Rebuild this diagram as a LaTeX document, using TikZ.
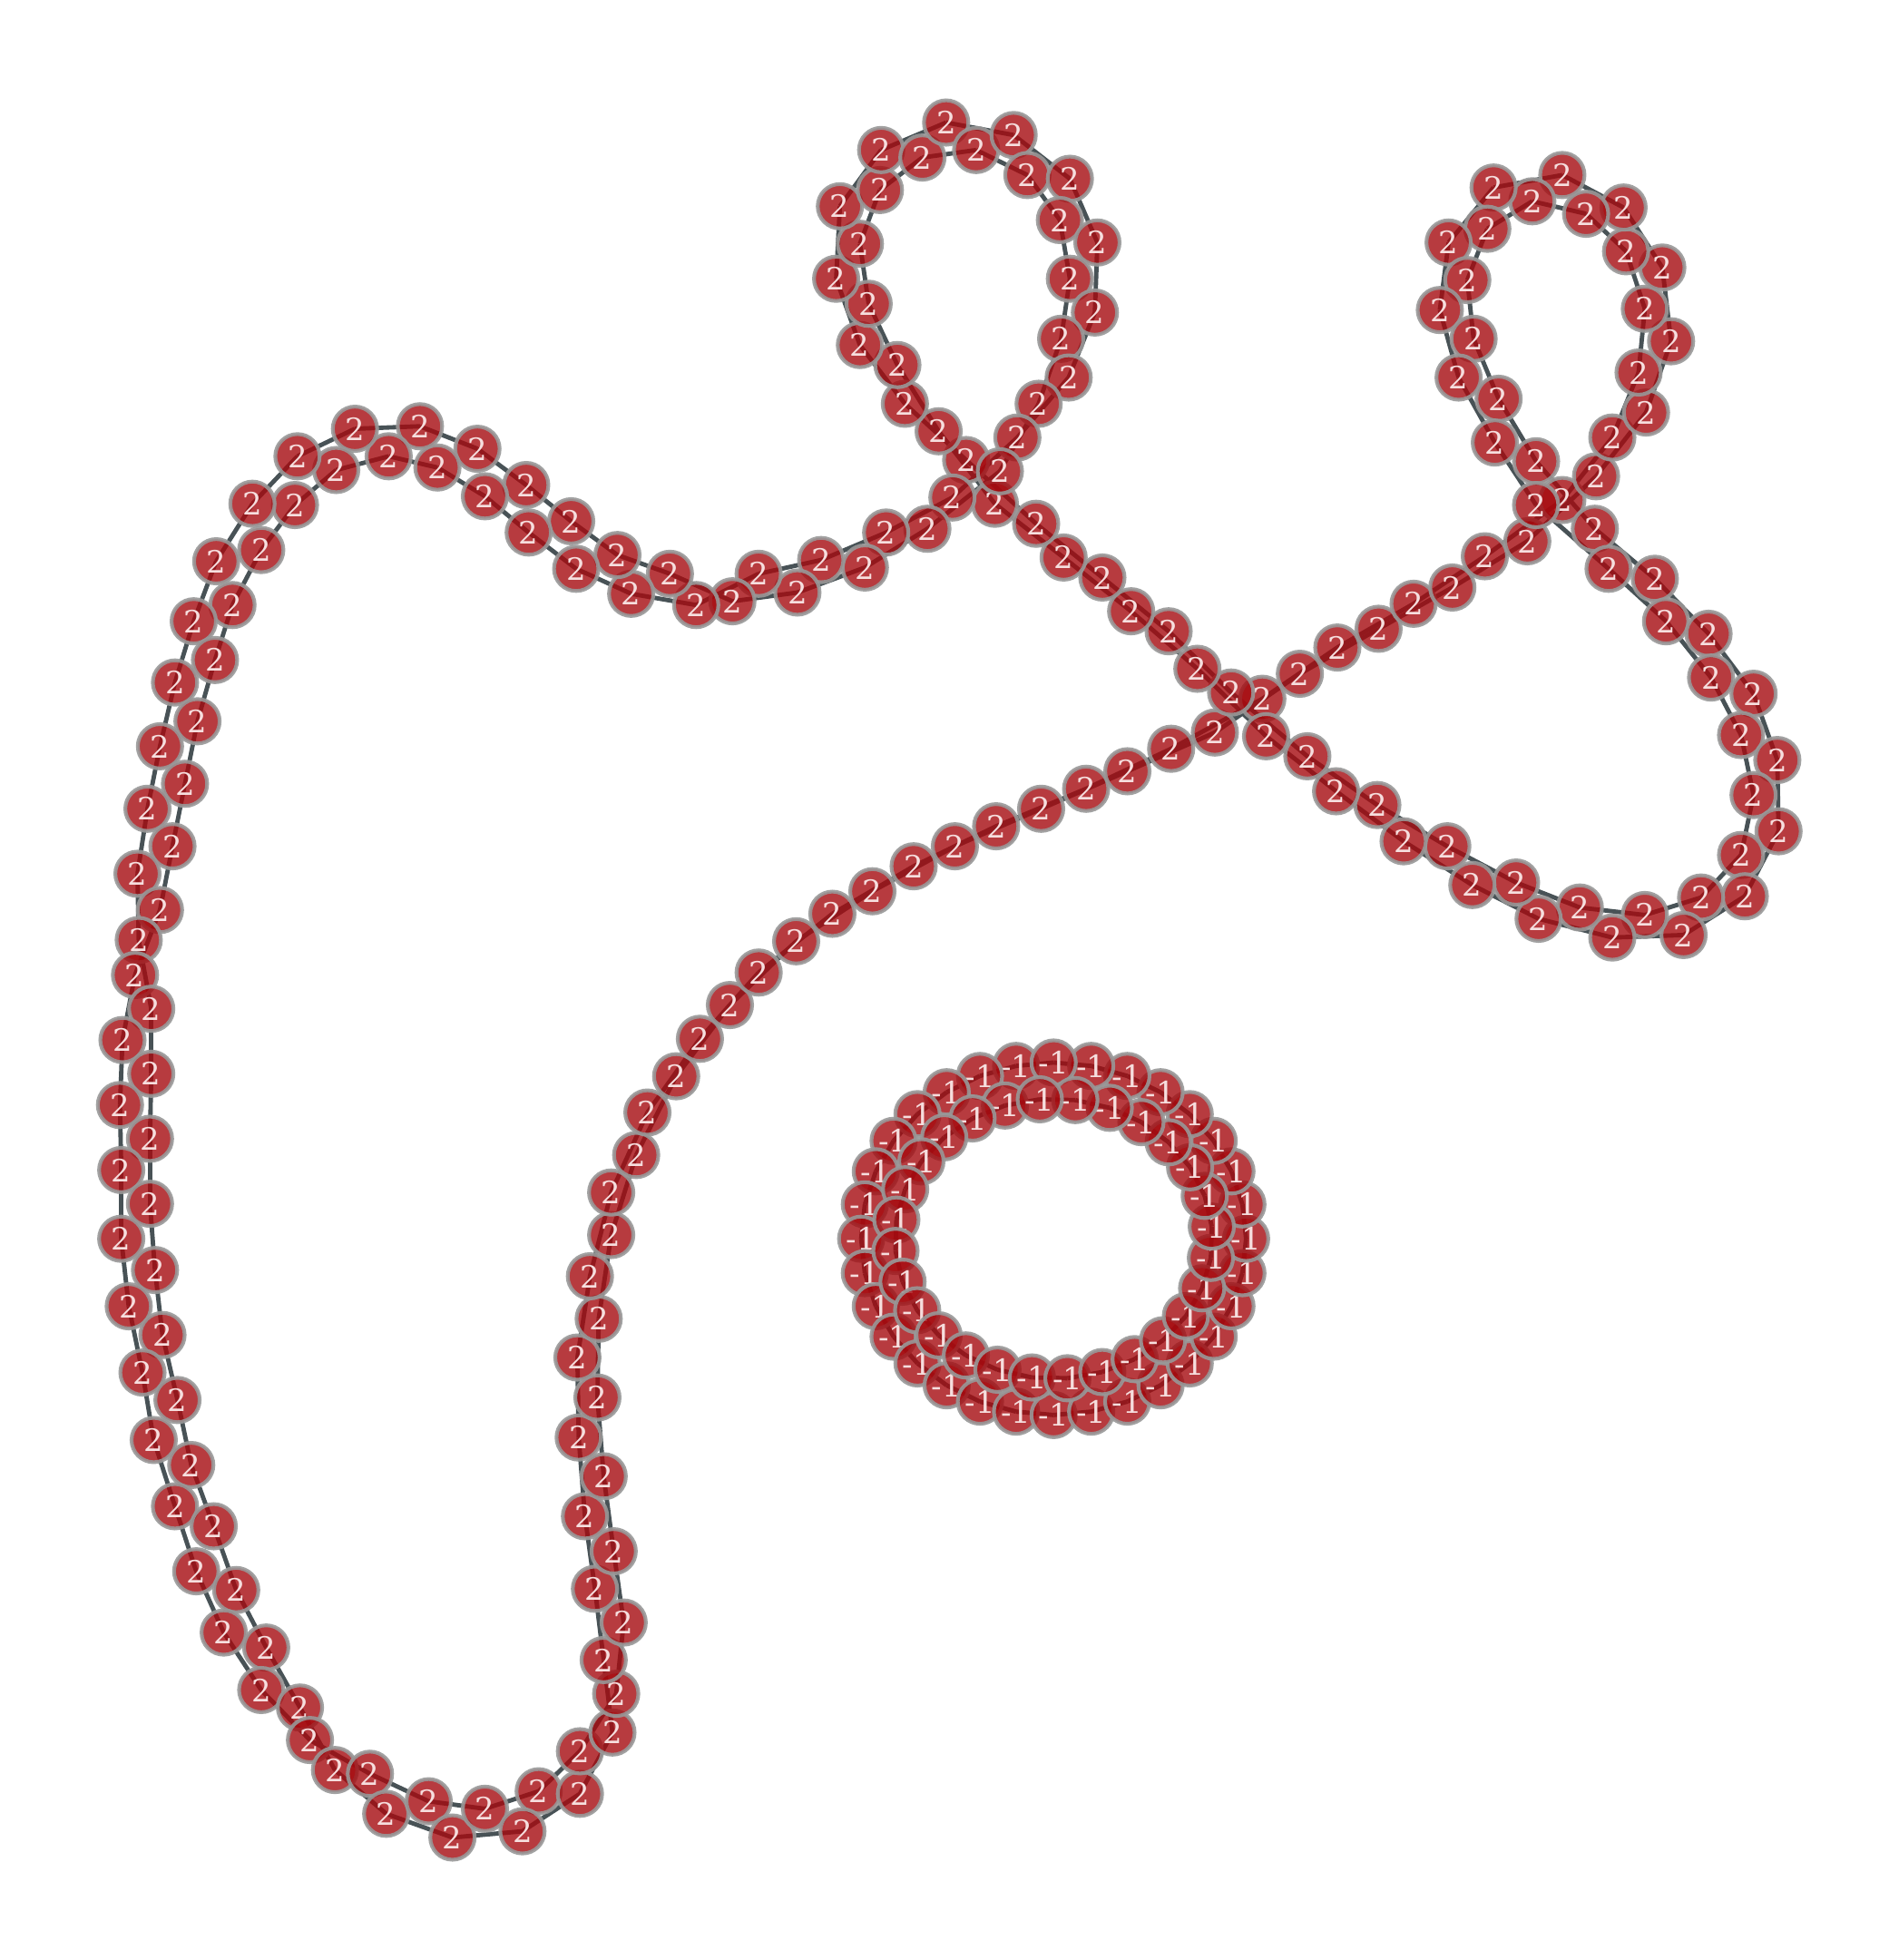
\documentclass[tikz,border=0pt]{standalone}
\usepackage{fontspec}
\setmainfont{DejaVu Serif}
\definecolor{beadred}{RGB}{165,10,15}
\definecolor{beadrim}{RGB}{152,152,152}
\definecolor{linkgray}{RGB}{72,82,86}
\definecolor{beadtext}{RGB}{246,222,222}
\pgfdeclarelayer{links}
\pgfsetlayers{links,main}
\tikzset{
  bead/.style={circle, fill=beadred, draw=beadrim, line width=0.85pt,
    fill opacity=0.8, draw opacity=0.9, text opacity=1, text=beadtext,
    minimum size=0.355cm, inner sep=0pt, font=\fontsize{7}{7}\selectfont},
  link/.style={linkgray, line width=1pt}
}

\begin{document}
\begin{tikzpicture}[x=0.01cm, y=-0.01cm]
  \useasboundingbox (0,0) rectangle (1519,1568);

  % Chain of 200 beads, walked along the curve
  \foreach [count=\i] \p in {
      (431,1433),(464,1435),(464,1401),(490,1386),(493,1355),(483,1328),(499,1298),(476,1271),
      (491,1241),(468,1213),(483,1181),(463,1150),(478,1118),(462,1086),(479,1055),(472,1021),
      (489,988),(489,954),(509,924),(518,890),(541,861),(560,831),(584,804),(607,778),
      (637,753),(666,731),(698,713),(731,693),(764,677),(797,661),(833,647),(869,631),
      (902,617),(937,599),(972,586),(1010,559),(1040,539),(1070,518),(1103,503),(1131,483),
      (1162,470),(1188,445),(1222,433),(1250,400),(1277,381),(1290,350),(1317,330),(1311,298),
      (1337,273),(1316,247),(1330,214),(1301,201),(1299,166),(1269,171),(1250,140),(1226,161),
      (1195,150),(1190,183),(1159,194),(1174,224),(1152,248),(1179,271),(1167,302),(1199,319),
      (1196,354),(1229,369),(1229,404),(1276,423),(1287,455),(1324,463),(1333,497),(1367,507),
      (1369,542),(1403,555),(1393,588),(1422,608),(1403,636),(1423,665),(1393,684),(1396,717),
      (1361,718),(1347,748),(1316,732),(1290,750),(1264,726),(1231,735),(1213,706),(1178,708),
      (1158,677),(1123,673),(1102,644),(1069,633),(1046,605),(1013,589),(985,554),(958,535),
      (935,505),(905,489),(882,462),(851,446),(829,419),(796,403),(773,368),(751,345),
      (724,323),(718,292),(688,276),(695,243),(669,223),(688,195),(672,165),(704,152),
      (705,120),(738,126),(757,98),(781,120),(811,108),(822,140),(856,143),(848,176),
      (878,194),(856,223),(876,250),(849,271),(855,302),(831,323),(814,350),(800,377),
      (762,398),(742,423),(709,426),(692,454),(657,448),(638,474),(607,459),(586,481),
      (557,484),(536,459),(505,475),(494,444),(461,455),(457,417),(423,426),(421,388),
      (388,397),(382,359),(350,374),(336,341),(311,365),(284,343),(269,376),(238,365),
      (236,404),(202,403),(209,440),(173,449),(186,484),(155,497),(172,528),(140,546),
      (158,577),(128,597),(148,627),(118,647),(138,677),(110,699),(128,728),(111,752),
      (108,780),(121,807),(98,832),(121,859),(96,884),(120,911),(97,936),(120,963),
      (97,991),(124,1016),(103,1045),(130,1068),(114,1098),(142,1120),(123,1152),(153,1172),
      (140,1205),(171,1221),(157,1257),(189,1272),(179,1306),(213,1318),(209,1352),(240,1366),
      (248,1392),(268,1416),(296,1419),(309,1451),(343,1441),(362,1470),(388,1447),(418,1465)}
    \node[bead] (c\i) at \p {2};

  % Ring: outer and inner strand
  \foreach \k in {1,...,32} {
    \pgfmathsetmacro{\a}{90+360*\k/32}
    \node[bead] (o\k) at ({843+154*cos(\a)},{991-141*sin(\a)}) {-1};
  }
  \foreach \k in {1,...,28} {
    \pgfmathsetmacro{\a}{95+360*\k/28}
    \node[bead] (n\k) at ({843+127*cos(\a)},{991-112*sin(\a)}) {-1};
  }

  % Links under the beads
  \begin{pgfonlayer}{links}
    \foreach \i in {1,...,200} {
      \pgfmathtruncatemacro{\j}{mod(\i+1,200)+1}
      \draw[link] (c\i.center) -- (c\j.center);
    }
    \foreach \k in {1,...,32} {
      \pgfmathtruncatemacro{\j}{mod(\k,32)+1}
      \draw[link] (o\k.center) -- (o\j.center);
    }
    \foreach \k in {1,...,28} {
      \pgfmathtruncatemacro{\j}{mod(\k,28)+1}
      \draw[link] (n\k.center) -- (n\j.center);
    }
  \end{pgfonlayer}
\end{tikzpicture}
\end{document}
